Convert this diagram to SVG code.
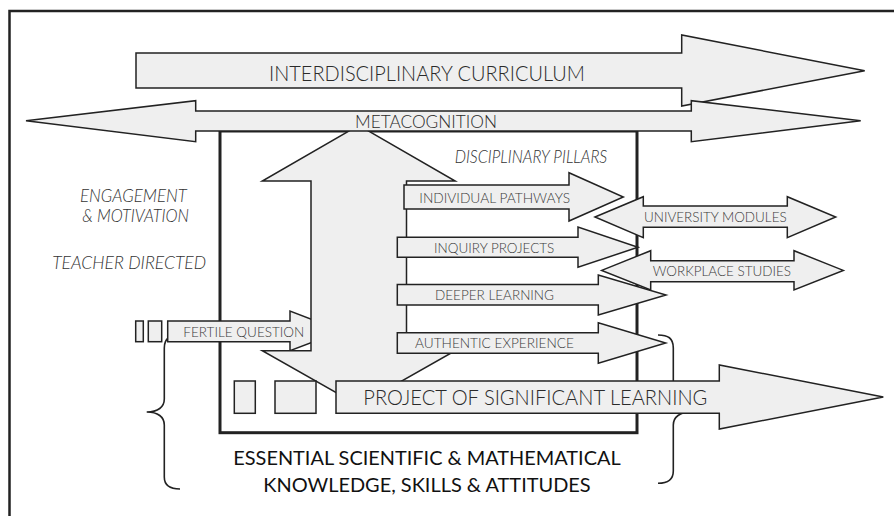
<svg xmlns="http://www.w3.org/2000/svg" width="894" height="516" viewBox="0 0 894 516">
<style>
.ar{fill:#efefef;stroke:#222;stroke-width:1.5;stroke-linejoin:miter}
.t{font-family:Lato,"Open Sans","Liberation Sans",sans-serif;font-weight:300;fill:#2a2a2a}
.it{font-style:italic;fill:#333}
.pl{fill:#3a3a3a}
.bt{fill:#111;font-weight:400}
.br{fill:none;stroke:#222;stroke-width:1.6}
</style>
<rect width="894" height="516" fill="#fff"/>
<path id="frame" d="M9.5 516 V11 H894" fill="none" stroke="#222" stroke-width="2.5"/>
<rect id="inner-box" x="220" y="131" width="417" height="301.7" fill="none" stroke="#222" stroke-width="3"/>
<g id="braces">
<path class="br" d="M180,335 C170,335 164.3,338 164.3,348 L164.3,399 C164.3,407 158,412 146.7,412 C158,412 164.3,417 164.3,425 L164.3,477 C164.3,485 170,489 180,489"/>
<path class="br" d="M658,335 C668,335 673.3,338 673.3,348 L673.3,399 C673.3,407 680,412 691,412 C680,412 673.3,417 673.3,425 L673.3,471 C673.3,479 668,483.3 658,483.3"/>
</g>
<g id="interdisciplinary">
<polygon class="ar" points="136,53 681.7,53 681.7,35 864.7,70.7 681.7,106 681.7,88 136,88"/>
<text class="t" x="269" y="81" font-size="22" textLength="316" lengthAdjust="spacingAndGlyphs">INTERDISCIPLINARY CURRICULUM</text>
</g>
<g id="fertile-question">
<rect class="ar" x="135.7" y="321" width="7.6" height="20.7"/>
<rect class="ar" x="148.3" y="321" width="13.4" height="20.7"/>
<polygon class="ar" points="167.7,321 290,321 290,311 342,331 290,350.7 290,341.7 167.7,341.7"/>
<text class="t pl" x="183.3" y="336.7" font-size="14" textLength="121" lengthAdjust="spacingAndGlyphs">FERTILE QUESTION</text>
</g>
<g id="vertical-arrow">
<polygon class="ar" points="358.75,125.4 455.2,181 406.5,181 406.5,350.7 455.2,350.7 358.75,405.5 262.3,350.7 311,350.7 311,181 262.3,181"/>
</g>
<g id="metacognition">
<polygon class="ar" points="26,120.7 195.7,100.7 195.7,111 691.3,111 691.3,100.7 860.7,120.7 691.3,141.7 691.3,131 195.7,131 195.7,141.7"/>
<text class="t" x="355" y="128" font-size="18" textLength="142" lengthAdjust="spacingAndGlyphs">METACOGNITION</text>
</g>
<g id="individual-pathways">
<polygon class="ar" points="404,185 569,185 569,172.7 623.3,197 569,221 569,209 404,209"/>
<text class="t pl" x="419.3" y="203.3" font-size="14.5" textLength="150.7" lengthAdjust="spacingAndGlyphs">INDIVIDUAL PATHWAYS</text>
</g>
<g id="inquiry-projects">
<polygon class="ar" points="397.3,237.3 578,237.3 578,227 638,247.2 578,267.3 578,257.3 397.3,257.3"/>
<text class="t pl" x="434" y="253.3" font-size="14.5" textLength="120.3" lengthAdjust="spacingAndGlyphs">INQUIRY PROJECTS</text>
</g>
<g id="deeper-learning">
<polygon class="ar" points="397.3,284.5 598.3,284.5 598.3,275 666,295 598.3,315 598.3,305 397.3,305"/>
<text class="t pl" x="435" y="300.3" font-size="14.5" textLength="119" lengthAdjust="spacingAndGlyphs">DEEPER LEARNING</text>
</g>
<g id="authentic-experience">
<polygon class="ar" points="397.3,332.7 598.3,332.7 598.3,322.7 665.7,343 598.3,363.3 598.3,353.3 397.3,353.3"/>
<text class="t pl" x="415" y="348.2" font-size="14.5" textLength="159" lengthAdjust="spacingAndGlyphs">AUTHENTIC EXPERIENCE</text>
</g>
<g id="university-modules">
<polygon class="ar" points="595,217 643.3,196.7 643.3,206 787.3,206 787.3,196.7 835.7,217 787.3,237.7 787.3,227.3 643.3,227.3 643.3,237.7"/>
<text class="t pl" x="644" y="222.3" font-size="13.5" textLength="142.7" lengthAdjust="spacingAndGlyphs">UNIVERSITY MODULES</text>
</g>
<g id="workplace-studies">
<polygon class="ar" points="601.7,270.4 650.7,250.7 650.7,260.7 794,260.7 794,250.7 843.3,270.4 794,290 794,281.7 650.7,281.7 650.7,290"/>
<text class="t pl" x="652.7" y="276" font-size="13.5" textLength="138.3" lengthAdjust="spacingAndGlyphs">WORKPLACE STUDIES</text>
</g>
<g id="project">
<polygon class="ar" points="336,381 719.3,381 719.3,365 883.3,397 719.3,429 719.3,413.3 336,413.3"/>
<text class="t" x="363.3" y="405" font-size="21" textLength="344" lengthAdjust="spacingAndGlyphs">PROJECT OF SIGNIFICANT LEARNING</text>
</g>
<g id="small-boxes">
<rect class="ar" x="234.3" y="381" width="21" height="32.3"/>
<rect class="ar" x="275" y="381" width="41" height="32.3"/>
</g>
<g id="labels">
<text class="t it" x="454.7" y="163.3" font-size="17" textLength="152.6" lengthAdjust="spacingAndGlyphs">DISCIPLINARY PILLARS</text>
<text class="t it" x="80" y="201.7" font-size="18" textLength="106.7" lengthAdjust="spacingAndGlyphs">ENGAGEMENT</text>
<text class="t it" x="82.3" y="221.7" font-size="18" textLength="106.7" lengthAdjust="spacingAndGlyphs">&amp; MOTIVATION</text>
<text class="t it" x="52.3" y="269" font-size="18" textLength="153.7" lengthAdjust="spacingAndGlyphs">TEACHER DIRECTED</text>
<text class="t bt" x="233.3" y="465" font-size="18.5" textLength="387.4" lengthAdjust="spacingAndGlyphs">ESSENTIAL SCIENTIFIC &amp; MATHEMATICAL</text>
<text class="t bt" x="263.3" y="491.7" font-size="18.5" textLength="327.4" lengthAdjust="spacingAndGlyphs">KNOWLEDGE, SKILLS &amp; ATTITUDES</text>
</g>
</svg>
